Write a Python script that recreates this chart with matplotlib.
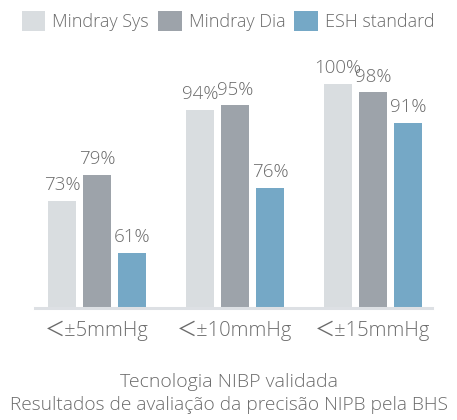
import matplotlib

matplotlib.use("Agg")

import matplotlib.pyplot as plt
import numpy as np

# data
categories = ["＜±5mmHg", "＜±10mmHg", "＜±15mmHg"]
series_names = ["Mindray Sys", "Mindray Dia", "ESH standard"]
sys_values = [73, 94, 100]
dia_values = [79, 95, 98]
esh_values = [61, 76, 91]
caption_lines = ["Tecnologia NIBP validada",
                 "Resultados de avaliação da precisão NIPB pela BHS"]

colors = ["#d9dde0", "#9da3aa", "#75a8c6"]
text_color = "#6b6b6b"
fonts = ["Open Sans", "Noto Sans CJK SC", "DejaVu Sans"]
plt.rcParams["font.family"] = fonts
plt.rcParams["font.weight"] = "light"

W, H = 457, 420
fig = plt.figure(figsize=(W / 100, H / 100), dpi=100)
ax = fig.add_axes([35 / W, 1 - 308 / H, 397 / W, 268 / H])

x = np.arange(len(categories))
width = 28 / 138
step = 35 / 138
all_values = [sys_values, dia_values, esh_values]

for i, (vals, name, color) in enumerate(zip(all_values, series_names, colors)):
    pos = x + (i - 1) * step
    bars = ax.bar(pos, vals, width=width, bottom=0, color=color, label=name)
    for b, v in zip(bars, vals):
        ax.annotate(f"{v}%", (b.get_x() + b.get_width() / 2, v),
                    xytext=(0, 4.5), textcoords="offset points",
                    ha="center", va="bottom", fontsize=13.5,
                    color=text_color)

ax.set_ylim(48.2, 110.1)
ax.set_xlim(-0.449, 2.428)
ax.axhline(48.2, color="#dde0e4", lw=2.2, clip_on=False)

for s in ax.spines.values():
    s.set_visible(False)
ax.set_yticks([])
ax.set_xticks(x)
ax.set_xticklabels(categories, fontsize=14.5, color=text_color)
ax.tick_params(axis="x", length=0, pad=9)

leg = fig.legend(loc="upper left", bbox_to_anchor=(0.012, 1.012), ncol=3,
                 frameon=False, handlelength=1.3, handleheight=1.3,
                 handletextpad=0.4, columnspacing=0.5, fontsize=13)
for t in leg.get_texts():
    t.set_color(text_color)

fig.text(0.5, 1 - 382 / H, caption_lines[0], ha="center", va="center",
         fontsize=14, color=text_color)
fig.text(0.5, 1 - 405 / H, caption_lines[1], ha="center", va="center",
         fontsize=13.8, color=text_color)

fig.savefig("out.png", dpi=100)
plt.close(fig)
